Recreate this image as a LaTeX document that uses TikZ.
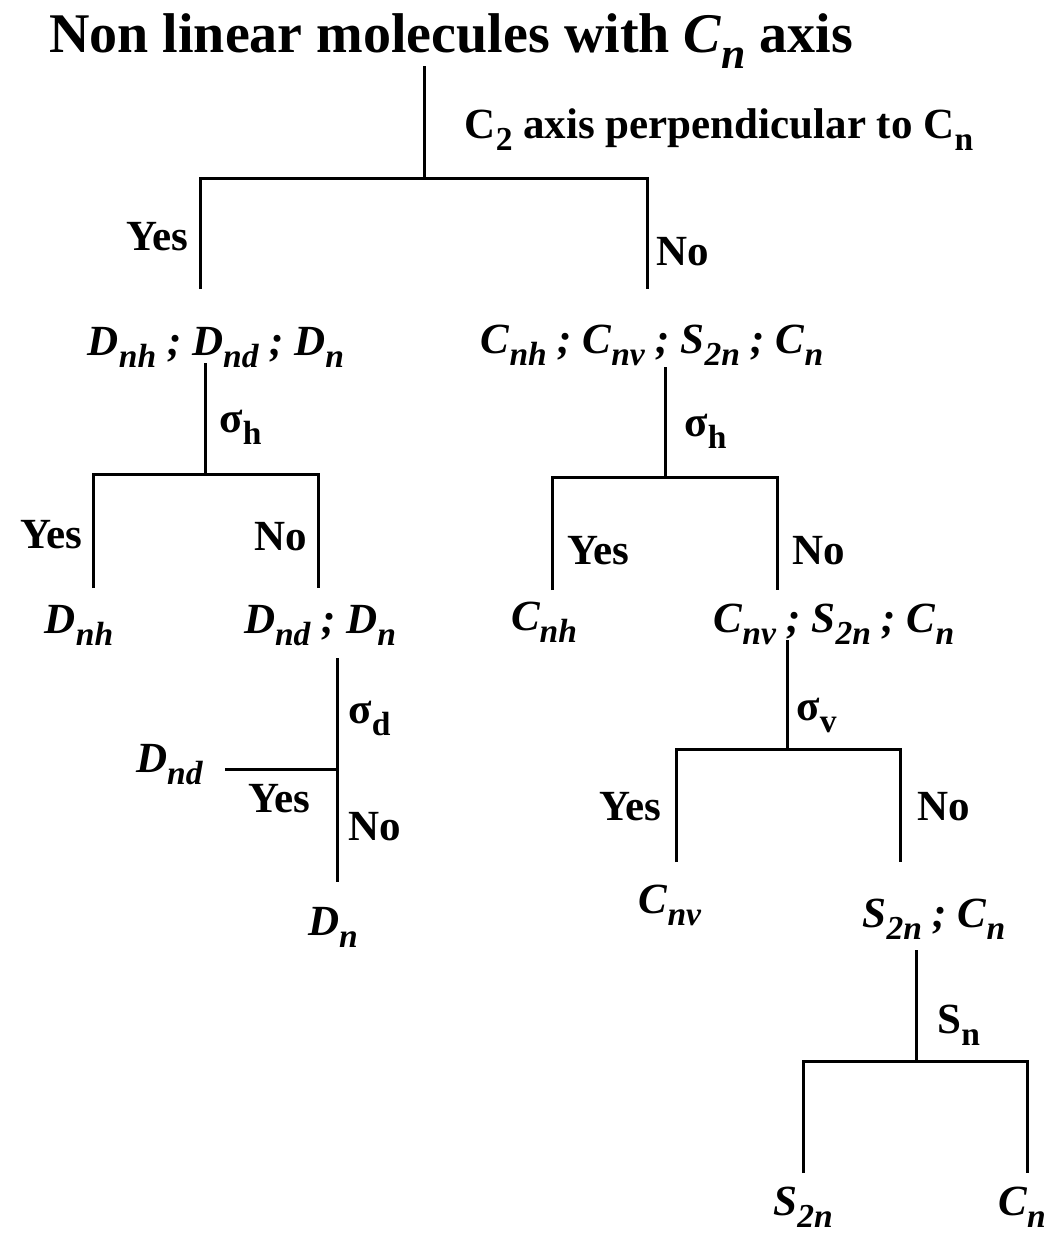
\documentclass[tikz,border=0pt]{standalone}
\usepackage{fontspec}
\setmainfont{Liberation Serif}
\usetikzlibrary{positioning}
\newcommand{\low}[1]{\raisebox{-0.3em}{\scalebox{0.78}{#1}}}
\tikzset{
  branch/.style={line width=1.5pt, draw=black},
  ttl/.style={font=\fontsize{28}{32}\selectfont\bfseries, inner sep=0pt},
  ans/.style={font=\fontsize{21.5}{24}\selectfont\bfseries, inner sep=0pt},
  grp/.style={font=\fontsize{21.5}{24}\selectfont\bfseries\itshape, inner sep=0pt},
}
\begin{document}
\begin{tikzpicture}[x=0.5pt, y=-0.5pt]
  \useasboundingbox (0,0) rectangle (1046,1233);
  \node[ttl, anchor=base] (title) at (451,52) {Non linear molecules with \textit{C\low{n}} axis};
  \coordinate (r0) at (424,66); \coordinate (r1) at (424,178);
  \coordinate (ry) at (200,178); \coordinate (rn) at (647,178);
  \coordinate (ry2) at (200,289); \coordinate (rn2) at (647,289);
  \node[ans, anchor=base] (qc2) at (719,138) {C\low{2} axis perpendicular to C\low{n}};
  \node[ans, anchor=base east] (y1) at (189,250) {Yes};
  \node[ans, anchor=base west] (n1) at (656,265) {No};
  \draw[branch] (r0)--(r1); \draw[branch] (ry2)--(ry)--(rn)--(rn2);
  \node[grp, anchor=base] (gd) at (216,355) {D\low{nh} ; D\low{nd} ; D\low{n}};
  \node[grp, anchor=base] (gc) at (652,353) {C\low{nh} ; C\low{nv} ; S\low{2n} ; C\low{n}};
  % D branch
  \coordinate (a0) at (205,363); \coordinate (a1) at (205,474);
  \coordinate (ay) at (93,474); \coordinate (an) at (318,474);
  \coordinate (ay2) at (93,588); \coordinate (an2) at (318,588);
  \draw[branch] (a0)--(a1); \draw[branch] (ay2)--(ay)--(an)--(an2);
  \node[ans, anchor=base west] (qa) at (219,432) {σ\low{h}};
  \node[ans, anchor=base east] (y2) at (83,548) {Yes};
  \node[ans, anchor=base east] (n2) at (307,550) {No};
  \node[grp, anchor=base] (dnh) at (79,633) {D\low{nh}};
  \node[grp, anchor=base] (dndn) at (320,633) {D\low{nd} ; D\low{n}};
  \coordinate (d0) at (337,658); \coordinate (d1) at (337,769);
  \coordinate (dy) at (225,769); \coordinate (d2) at (337,882);
  \draw[branch] (d0)--(d2); \draw[branch] (dy)--(d1);
  \node[ans, anchor=base west] (qd) at (348,723) {σ\low{d}};
  \node[grp, anchor=base east] (dnd) at (203,772) {D\low{nd}};
  \node[ans, anchor=base west] (y4) at (248,812) {Yes};
  \node[ans, anchor=base west] (n4) at (348,840) {No};
  \node[grp, anchor=base] (dn) at (333,935) {D\low{n}};
  % C branch
  \coordinate (b0) at (665,367); \coordinate (b1) at (665,477);
  \coordinate (by) at (552,477); \coordinate (bn) at (777,477);
  \coordinate (by2) at (552,590); \coordinate (bn2) at (777,590);
  \draw[branch] (b0)--(b1); \draw[branch] (by2)--(by)--(bn)--(bn2);
  \node[ans, anchor=base west] (qb) at (684,436) {σ\low{h}};
  \node[ans, anchor=base west] (y3) at (567,564) {Yes};
  \node[ans, anchor=base west] (n3) at (792,564) {No};
  \node[grp, anchor=base] (cnh) at (544,630) {C\low{nh}};
  \node[grp, anchor=base] (cvsc) at (834,632) {C\low{nv} ; S\low{2n} ; C\low{n}};
  \coordinate (v0) at (787,640); \coordinate (v1) at (787,749);
  \coordinate (vy) at (676,749); \coordinate (vn) at (900,749);
  \coordinate (vy2) at (676,862); \coordinate (vn2) at (900,862);
  \draw[branch] (v0)--(v1); \draw[branch] (vy2)--(vy)--(vn)--(vn2);
  \node[ans, anchor=base west] (qv) at (796,720) {σ\low{v}};
  \node[ans, anchor=base east] (y5) at (662,820) {Yes};
  \node[ans, anchor=base west] (n5) at (917,820) {No};
  \node[grp, anchor=base] (cnv) at (670,913) {C\low{nv}};
  \node[grp, anchor=base] (sc) at (934,927) {S\low{2n} ; C\low{n}};
  \coordinate (s0) at (916,950); \coordinate (s1) at (916,1061);
  \coordinate (sy) at (803,1061); \coordinate (sn) at (1027,1061);
  \coordinate (sy2) at (803,1173); \coordinate (sn2) at (1027,1173);
  \draw[branch] (s0)--(s1); \draw[branch] (sy2)--(sy)--(sn)--(sn2);
  \node[ans, anchor=base west] (qs) at (937,1033) {S\low{n}};
  \node[grp, anchor=base] (s2n) at (803,1215) {S\low{2n}};
  \node[grp, anchor=base] (cn) at (1022,1215) {C\low{n}};
\end{tikzpicture}
\end{document}
